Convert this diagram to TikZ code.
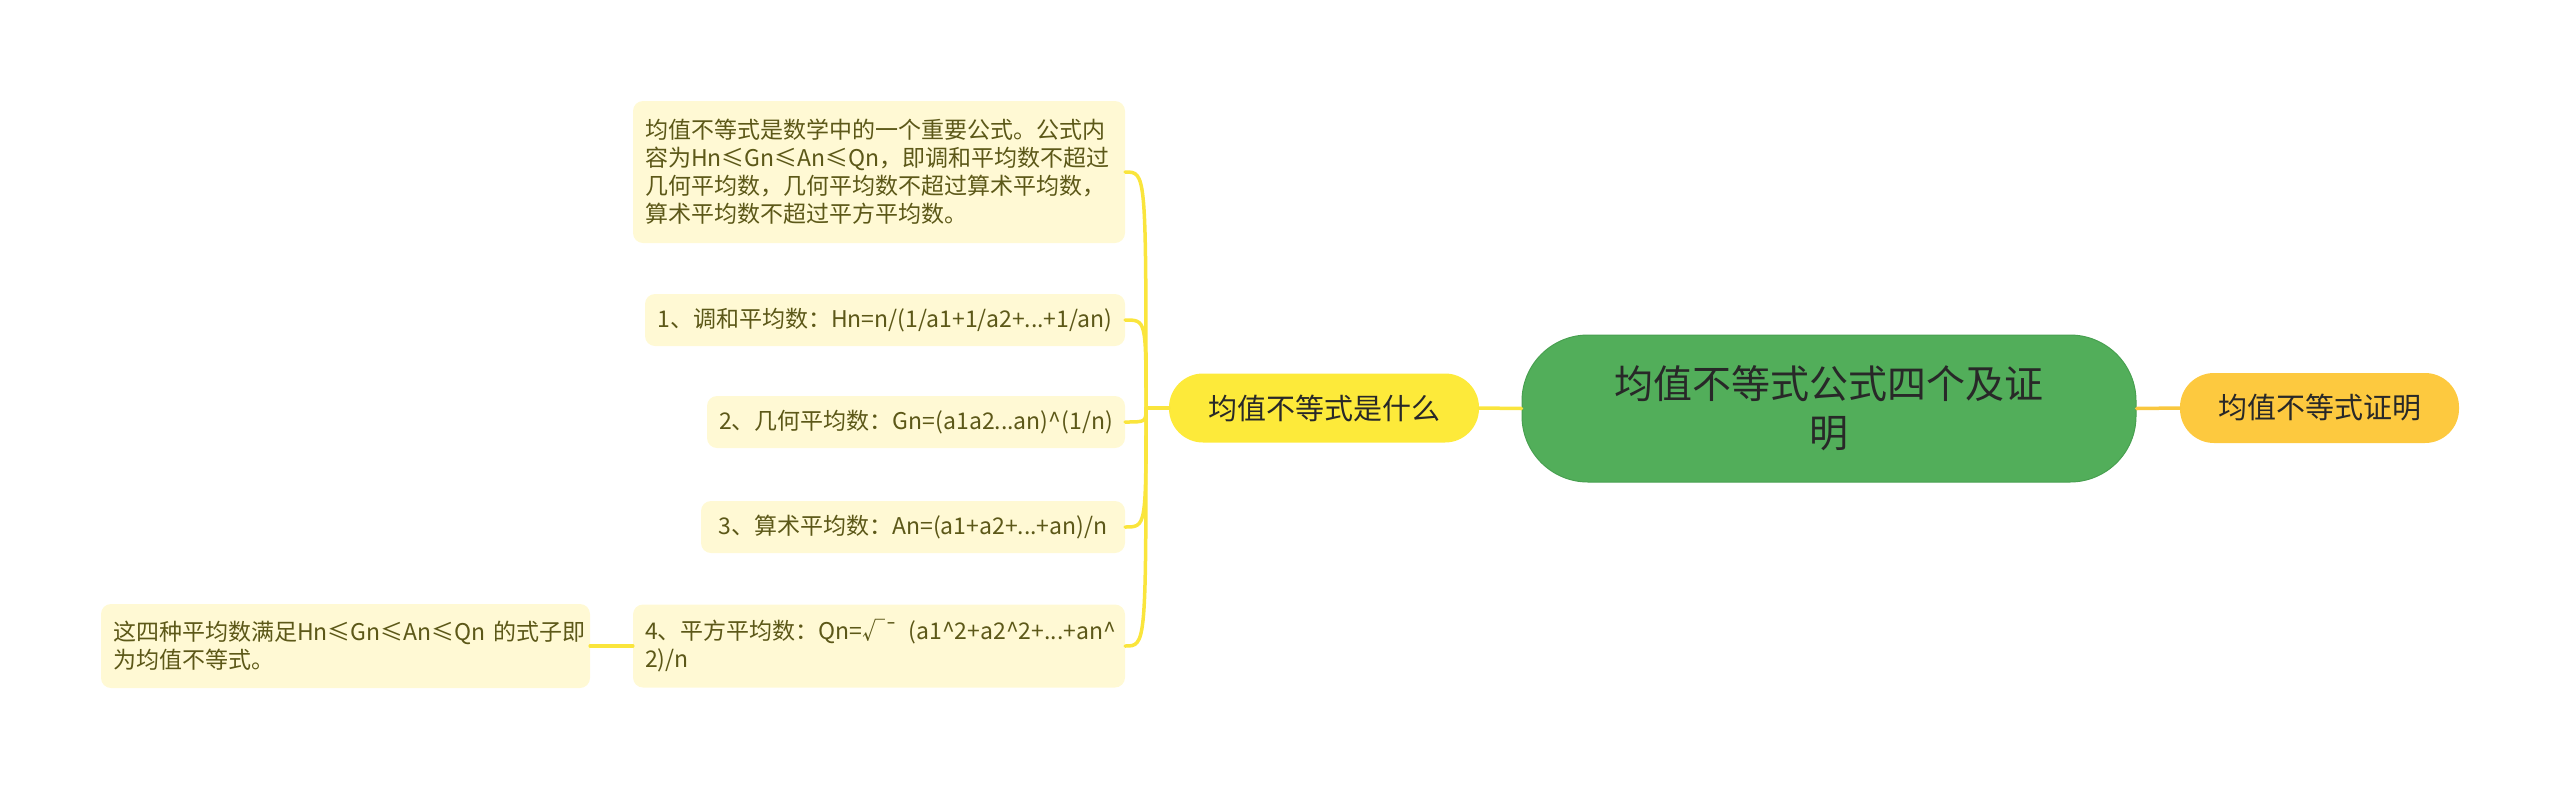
\documentclass[tikz,border=0pt]{standalone}
\usepackage{fontspec}
\setmainfont{Noto Sans CJK SC}
\definecolor{leafbg}{RGB}{255,249,212}
\definecolor{leaftx}{RGB}{92,88,24}
\definecolor{linky}{RGB}{250,229,60}
\definecolor{linko}{RGB}{249,199,62}
\definecolor{mainy}{RGB}{253,234,58}
\definecolor{maino}{RGB}{253,201,63}
\definecolor{cgreen}{RGB}{82,174,90}
\definecolor{cgreenb}{RGB}{72,160,80}
\definecolor{ctext}{RGB}{40,40,40}
\newcommand{\crt}{\textasciicircum}
\begin{document}
\begin{tikzpicture}[x=1pt,y=-1pt,
  leaf/.style={fill=leafbg, rounded corners=10pt, text=leaftx,
    font=\fontsize{23}{28}\selectfont, inner xsep=12pt, inner ysep=0pt, anchor=center},
  mainnode/.style={rounded corners=34pt, text=ctext,
    font=\fontsize{29}{36}\selectfont, inner sep=0pt, align=center},
  link/.style={line width=3.5pt, line cap=round},
]
\useasboundingbox (0,0) rectangle (2560,788);

% central topic
\node[draw=cgreenb, line width=1pt, fill=cgreen, rounded corners=66pt, text=ctext,
  font=\fontsize{39}{49}\selectfont, minimum width=614pt, minimum height=147pt,
  inner sep=0pt, align=center] (C) at (1829,408.5) {均值不等式公式四个及证\\明};

% main topics
\node[mainnode, fill=mainy, minimum width=310pt, minimum height=69pt] (L) at (1324,408) {均值不等式是什么};
\node[mainnode, fill=maino, minimum width=279pt, minimum height=70pt] (R) at (2319.5,408) {均值不等式证明};

% leaves
\node[leaf, text width=468pt, minimum height=142pt, align=left] (A1) at (879,172)
  {均值不等式是数学中的一个重要公式。公式内\\容为Hn≤Gn≤An≤Qn，即调和平均数不超过\\几何平均数，几何平均数不超过算术平均数，\\算术平均数不超过平方平均数。};
\node[leaf, text width=456pt, minimum height=52pt, align=center] (A2) at (885,320)
  {1、调和平均数：Hn=n/(1/a1+1/a2+...+1/an)};
\node[leaf, text width=394pt, minimum height=52pt, align=center] (A3) at (916,422)
  {2、几何平均数：Gn=(a1a2...an)\crt(1/n)};
\node[leaf, text width=400pt, minimum height=52pt, align=center] (A4) at (913,527)
  {3、算术平均数：An=(a1+a2+...+an)/n};
\node[leaf, text width=468pt, minimum height=83pt, align=left] (A5) at (879,646)
  {\mbox{4、平方平均数：Qn=√\kern-1pt¯\hspace{10pt}(a1\crt2+a2\crt2+...+an\crt}\\2)/n};
\node[leaf, text width=465pt, minimum height=84pt, align=left] (A6) at (345.5,646)
  {\mbox{这四种平均数满足Hn≤Gn≤An≤Qn 的式子即}\\为均值不等式。};

% connectors
\coordinate (J) at (1146,408);
\draw[link, draw=linky] (C.west) -- (L.east);
\draw[link, draw=linko] (C.east) -- (R.west);
\draw[link, draw=linky] (L.west) -- (J);
\foreach \n in {A1,A2,A3,A4,A5}{
  \draw[link, draw=linky] (J) .. controls (J |- \n.east) .. (\n.east);
}
\draw[link, draw=linky] (A5.west) -- (A6.east);
\end{tikzpicture}
\end{document}
